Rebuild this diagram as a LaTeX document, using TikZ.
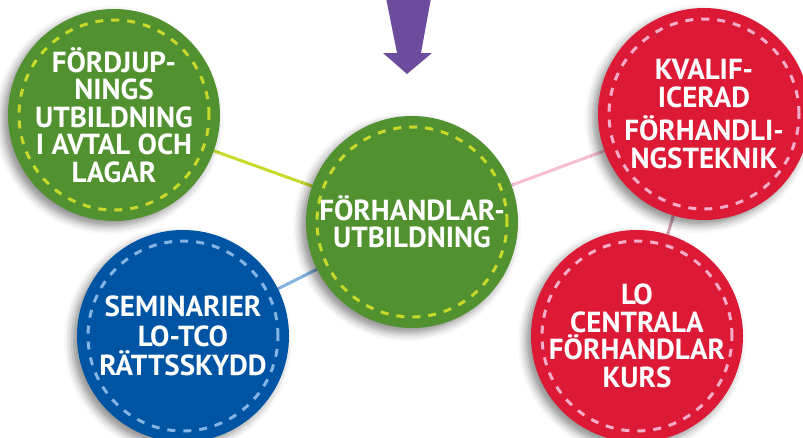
\documentclass[tikz,border=0pt]{standalone}
\usepackage{fontspec}
\setmainfont{PT Sans}
\usetikzlibrary{shadows.blur,backgrounds}
\definecolor{Leaf}{RGB}{82,145,48}
\definecolor{LeafStitch}{RGB}{200,217,43}
\definecolor{Berry}{RGB}{220,26,53}
\definecolor{BerryStitch}{RGB}{244,172,202}
\definecolor{Sea}{RGB}{0,84,164}
\definecolor{SeaStitch}{RGB}{132,180,226}
\definecolor{Plum}{RGB}{108,76,156}

\tikzset{
  bubble/.style 2 args={circle, minimum size=212pt, inner sep=0pt, fill=#1,
    text=white, align=center, font=\fontsize{29}{27.5}\selectfont\bfseries,
    blur shadow={shadow xshift=-5pt, shadow yshift=-5pt, shadow blur radius=8pt, shadow opacity=45},
    path picture={\draw[#2, line width=3pt, dash pattern=on 8pt off 8pt]
      (path picture bounding box.center) circle (95pt);}},
  link/.style={line width=3pt, #1}
}

\begin{document}
\begin{tikzpicture}[x=1pt, y=-1pt]
    %%Background
    \useasboundingbox (0,0) rectangle (803,437);

    %% Arrow from above
    \fill[Plum] (386,-2) -- (431,-2) -- (421,53) -- (432,53) -- (407,74)
    -- (383,53) -- (397,53) -- cycle;

    %% Circles
    \node[bubble={Leaf}{LeafStitch}] (deep) at (114,115)
    {FÖRDJUP-\\NINGS\\UTBILDNING\\I AVTAL OCH\\LAGAR};
    \node[bubble={Berry}{BerryStitch}] (skill) at (704,114)
    {KVALIF-\\ICERAD\\[6pt]FÖRHANDLI-\\NGSTEKNIK};
    \node[bubble={Leaf}{LeafStitch}] (main) at (412,222)
    {FÖRHANDLAR-\\UTBILDNING};
    \node[bubble={Sea}{SeaStitch}] (sem) at (183,336)
    {SEMINARIER\\[2pt]LO-TCO\\[2pt]RÄTTSSKYDD};
    \node[bubble={Berry}{BerryStitch}] (course) at (637,336)
    {LO\\CENTRALA\\FÖRHANDLAR\\KURS};

    %% Links
    \begin{scope}[on background layer]
    \draw[link=LeafStitch] (deep) -- (main);
    \draw[link=BerryStitch!80] (main) -- (skill);
    \draw[link=SeaStitch] (sem) -- (main);
    \draw[link=BerryStitch!70!gray] (skill) -- (course);
    \end{scope}
\end{tikzpicture}
\end{document}
